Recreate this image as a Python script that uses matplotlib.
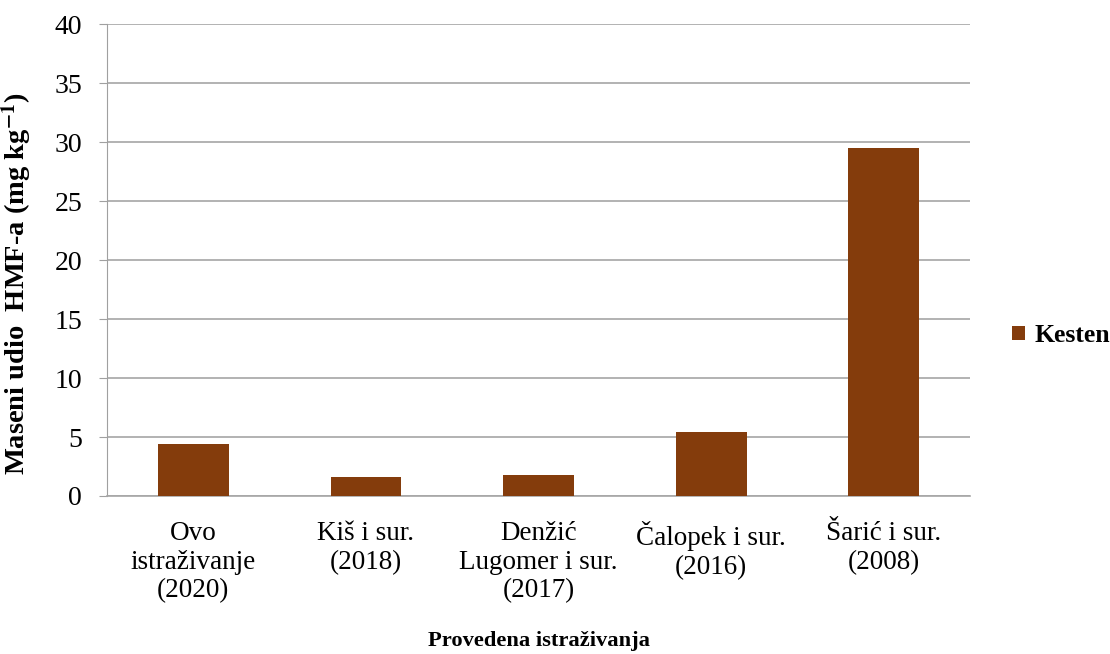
import matplotlib.pyplot as plt

# data
studies = ['Ovo\nistraživanje\n(2020)', 'Kiš i sur.\n(2018)', 'Denžić\nLugomer i sur.\n(2017)',
           'Čalopek i sur.\n(2016)', 'Šarić i sur.\n(2008)']
kesten = [4.4, 1.6, 1.8, 5.4, 29.5]

plt.rcParams['font.family'] = ['Liberation Serif', 'DejaVu Serif']
plt.rcParams['mathtext.fontset'] = 'stix'

fig = plt.figure(figsize=(11.1, 6.54), dpi=100)
ax = fig.add_axes([0.0964, 0.2416, 0.7776, 0.7214])

x = range(len(studies))
ax.bar(x, kesten, width=0.41, color='#843C0C', label='Kesten', zorder=3)

ax.set_xlim(-0.5, len(studies) - 0.5)
ax.set_ylim(0, 40)
ax.set_yticks(range(0, 41, 5))
ax.set_xticks(list(x))
ax.set_xticklabels(studies, fontsize=19.5, linespacing=1.2)
ax.tick_params(axis='y', labelsize=20, length=6, color='#A0A0A0', pad=12)
ax.tick_params(axis='x', length=0, pad=18)
ax.yaxis.grid(True, color='#A6A6A6', linewidth=1.2, zorder=0)
ax.set_axisbelow(True)

for side in ['top', 'right']:
    ax.spines[side].set_visible(False)
ax.spines['left'].set_color('#A0A0A0')
ax.spines['bottom'].set_color('#A6A6A6')
ax.spines['bottom'].set_linewidth(1.2)

ax.set_ylabel('Maseni udio  HMF-a (mg kg$^{\\mathbf{-1}}$)', fontsize=20.5, fontweight='bold')
ax.yaxis.set_label_coords(-0.085, 0.449)
ax.set_xlabel('Provedena istraživanja', fontsize=16.2, fontweight='bold', labelpad=20)

leg = ax.legend(loc='center left', bbox_to_anchor=(1.0487, 0.34), frameon=False,
                borderpad=0, borderaxespad=0,
                handlelength=0.5, handleheight=0.5, handletextpad=0.35,
                prop={'size': 18.5, 'weight': 'bold'})

plt.savefig('out.png', dpi=100)
